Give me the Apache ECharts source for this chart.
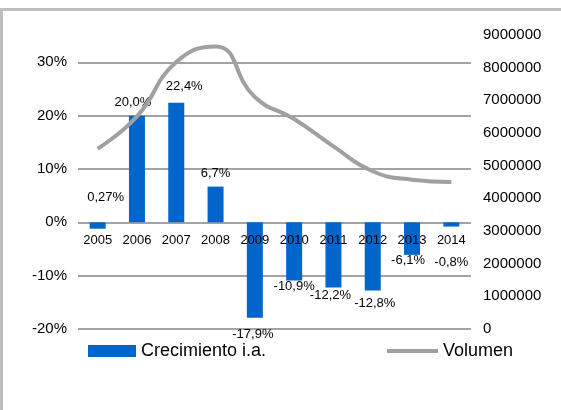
<!DOCTYPE html>
<html>
<head>
<meta charset="utf-8">
<script src="https://cdn.jsdelivr.net/npm/echarts@6/dist/echarts.min.js"></script>
<style>
  html, body { margin: 0; padding: 0; background: #fff; }
  #container { width: 561px; height: 410px; }
</style>
</head>
<body>
<div id="container"></div>
<script>
var years = ['2005', '2006', '2007', '2008', '2009', '2010', '2011', '2012', '2013', '2014'];
// crecimiento interanual (%), altura de barra
var growth = [-1.2, 20.0, 22.4, 6.7, -17.9, -10.9, -12.2, -12.8, -6.1, -0.8];
// textos de las etiquetas tal como aparecen
var growthLabels = ['0,27%', '20,0%', '22,4%', '6,7%', '-17,9%', '-10,9%', '-12,2%', '-12,8%', '-6,1%', '-0,8%'];
var volume = [5520000, 6510000, 8170000, 8650000, 7100000, 6430000, 5590000, 4830000, 4570000, 4500000];
var pctTicks = [-20, 30, 10];
var volTicks = [0, 9000000, 1000000];

// ajustes manuales de las etiquetas [dx, dy]
var labelShift = [[8, -13], [-4, -2], [8, -5], [0, -2], [-2, 5], [0, -6], [-3, -3], [2, 1], [-4, -6], [0, 24]];

var FONT = 'Liberation Sans, Arial, sans-serif';
var H = 410, GRID_TOP = 62.3, GRID_BOTTOM = 81;
var dom = document.getElementById('container');
var myChart = echarts.init(dom);

// el eje de categorias va sobre la linea del 0%
var plotH = H - GRID_TOP - GRID_BOTTOM;
var zeroOffset = -(0 - pctTicks[0]) / (pctTicks[1] - pctTicks[0]) * plotH;

var barData = growth.map(function (v, i) {
    return {
        value: v,
        label: {
            position: v < 0 && i !== 0 ? 'bottom' : 'top',
            offset: labelShift[i]
        }
    };
});

var option = {
    backgroundColor: '#fff',
    animation: false,
    textStyle: { fontFamily: FONT },
    graphic: [{
        type: 'rect',
        shape: { x: 1.5, y: 9.5, width: 700, height: 600 },
        style: { fill: 'none', stroke: '#bfbfbf', lineWidth: 3 },
        silent: true
    }],
    legend: [{
        data: ['Crecimiento i.a.'],
        left: 88,
        top: 342,
        padding: 0,
        itemWidth: 48,
        itemHeight: 12,
        icon: 'rect',
        textStyle: { fontSize: 18, color: '#000', fontFamily: FONT }
    }, {
        data: [{ name: 'Volumen', icon: 'rect' }],
        left: 387,
        top: 342,
        padding: 0,
        itemWidth: 51,
        itemHeight: 4,
        textStyle: { fontSize: 18, color: '#000', fontFamily: FONT }
    }],
    grid: [
        { left: 78, right: 90, top: GRID_TOP, bottom: GRID_BOTTOM },
        { left: 78, right: 90, top: 35, bottom: GRID_BOTTOM }
    ],
    xAxis: [{
        type: 'category',
        gridIndex: 0,
        position: 'bottom',
        offset: zeroOffset,
        data: years,
        z: 3,
        axisLine: { show: false, onZero: false },
        axisTick: { show: false },
        axisLabel: { color: '#000', fontSize: 13, margin: 12, fontFamily: FONT }
    }, {
        type: 'category',
        gridIndex: 1,
        data: years,
        show: false
    }],
    yAxis: [{
        type: 'value',
        gridIndex: 0,
        min: pctTicks[0],
        max: pctTicks[1],
        interval: pctTicks[2],
        axisLine: { show: false },
        axisTick: { show: false },
        axisLabel: { color: '#000', fontSize: 15, margin: 11, formatter: '{value}%', fontFamily: FONT },
        splitLine: { lineStyle: { color: '#a3a3a3', width: 2 } }
    }, {
        type: 'value',
        gridIndex: 1,
        position: 'right',
        min: volTicks[0],
        max: volTicks[1],
        interval: volTicks[2],
        axisLine: { show: false },
        axisTick: { show: false },
        axisLabel: {
            color: '#000', fontSize: 15, margin: 12, fontFamily: FONT,
            formatter: function (v) { return String(v); }
        },
        splitLine: { show: false }
    }],
    series: [{
        name: 'Crecimiento i.a.',
        type: 'bar',
        xAxisIndex: 0,
        yAxisIndex: 0,
        barWidth: 16,
        itemStyle: { color: '#0066cc' },
        label: {
            show: true,
            distance: 5,
            fontSize: 13,
            color: '#000',
            fontFamily: FONT,
            formatter: function (p) { return growthLabels[p.dataIndex]; }
        },
        data: barData
    }, {
        name: 'Volumen',
        type: 'line',
        xAxisIndex: 1,
        yAxisIndex: 1,
        smooth: 0.5,
        symbol: 'none',
        itemStyle: { color: '#a0a0a0' },
        lineStyle: { color: '#a0a0a0', width: 4 },
        data: volume
    }]
};

myChart.setOption(option);

window.onresize = function () {
    myChart.resize();
};
</script>
</body>
</html>
